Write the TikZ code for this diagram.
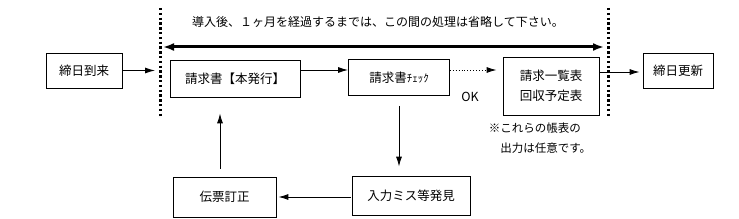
\documentclass[tikz,border=0pt]{standalone}
\usepackage{fontspec}
\setmainfont{Noto Sans CJK JP}
\usetikzlibrary{arrows.meta}

\begin{document}
\begin{tikzpicture}[x=1pt,y=-1pt,every node/.style={font=\fontsize{12.5}{15}\selectfont},
      flowbox/.style={draw,line width=.8pt,inner sep=0pt,align=center},
      arrow/.style={-{Latex[length=10pt,width=6pt]},line width=.9pt},
      boundary/.style={line width=3pt,dash pattern=on 2.4pt off 2.4pt}]
      \useasboundingbox (0,0) rectangle (739,219);
      % closing period boundaries
      \coordinate (lt) at (160,8); \coordinate (lb) at (160,118);
      \coordinate (rt) at (608,8); \coordinate (rb) at (608,118);
      \draw[boundary] (lt)--(lb); \draw[boundary] (rt)--(rb);
      \node[flowbox,minimum width=76pt,minimum height=35pt] (arrive) at (84,70.5) {締日到来};
      \node[flowbox,minimum width=130pt,minimum height=37pt] (issue) at (235,78.5) {請求書【本発行】};
      \node[flowbox,minimum width=101pt,minimum height=36pt] (check) at (399,77.5) {請求書{\fontsize{11}{13}\selectfont ﾁｪｯｸ}};
      \node[flowbox,minimum width=96pt,minimum height=58pt,font=\fontsize{12.5}{20}\selectfont] (lists) at (551,86) {請求一覧表\\回収予定表};
      \node[flowbox,minimum width=70pt,minimum height=35pt] (update) at (678,70.5) {締日更新};
      \node[flowbox,minimum width=118pt,minimum height=39pt] (error) at (411,195.5) {入力ミス等発見};
      \node[flowbox,minimum width=103pt,minimum height=40pt] (fix) at (224.5,197) {伝票訂正};
      \node[font=\fontsize{12}{14}\selectfont] (notice) at (378,22) {導入後、１ヶ月を経過するまでは、この間の処理は省略して下さい。};
      \node (ok) at (470,97) {OK};
      \node[font=\fontsize{11.5}{20}\selectfont,align=left] (remark) at (540,138) {※これらの帳表の\\\hspace{1em}出力は任意です。};
      \draw[{Latex[length=11pt,width=8pt]}-{Latex[length=11pt,width=8pt]},line width=3pt,shorten <=3pt,shorten >=4pt] (lt |- 0,47)--(rt |- 0,47);
      \draw[arrow,shorten >=5pt] (arrive)--(arrive -| lt);
      \draw[arrow] (issue.east |- 0,70)--(check.west |- 0,70);
      \draw[arrow,dotted,shorten >=6pt] (check.east |- 0,70)--(lists.west |- 0,70);
      \draw[arrow,shorten >=3pt] (lists.east |- 0,72)--(update.west |- 0,72);
      \draw[arrow,shorten <=10pt,shorten >=9pt] (check.south)--(check.south |- error.north);
      \draw[arrow,shorten <=1pt,shorten >=2pt] (error.west |- 0,197)--(fix.east |- 0,197);
      \draw[arrow,shorten <=8pt,shorten >=16pt] ([xshift=-4.5pt]fix.north)--([xshift=-4.5pt]fix.north |- issue.south);
    \end{tikzpicture}
\end{document}
